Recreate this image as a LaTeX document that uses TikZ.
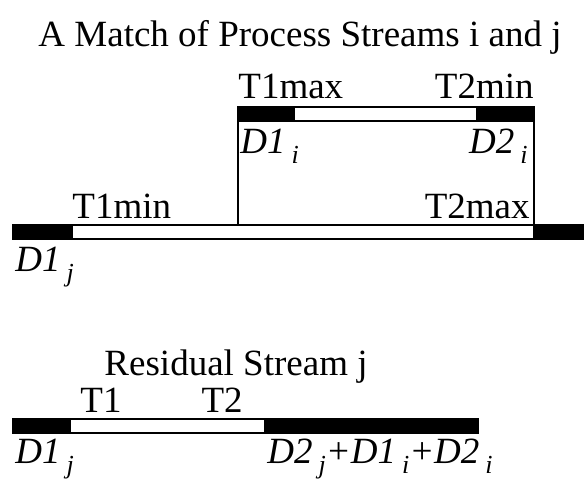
\documentclass[tikz,border=0pt]{standalone}
\usepackage{fontspec}
\setmainfont{Liberation Serif}
\usepackage{tikz}
\usetikzlibrary{positioning, calc}

% subscript set low, as in the scanned figure
\newcommand{\lowsub}[1]{\hspace{3pt}\raisebox{-5pt}{\fontsize{13}{13}\selectfont\itshape #1}}

\begin{document}
\begin{tikzpicture}[x=0.5pt, y=-0.5pt]

        % Estilos dos segmentos e rotulos
        \tikzset{
            seg/.style={draw, line width=0.7pt, minimum height=7pt, inner sep=0pt, outer sep=0pt},
            segfull/.style={seg, fill=black},
            segopen/.style={seg, fill=white},
            lbl/.style={inner sep=0pt, font=\fontsize{18.5}{21}\selectfont},
            link/.style={line width=0.7pt}
        }
        \useasboundingbox (0,0) rectangle (584,479);

        % Titulo
        \node [lbl, anchor=base] (title) at (300,46) {A Match of Process Streams i and j};

        % Corrente i
        \node [segfull, minimum width=28pt, anchor=west] (d1i) at (238,114) {};
        \node [segopen, minimum width=91.5pt, right=0pt of d1i] (gapi) {};
        \node [segfull, minimum width=28.5pt, right=0pt of gapi] (d2i) {};

        % Corrente j
        \node [segfull, minimum width=29.5pt, anchor=west] (d1j) at (13,232) {};
        \node [segopen, minimum width=231pt, right=0pt of d1j] (gapj) {};
        \node [segfull, minimum width=28pt, right=0pt of gapj] (d2j) {};

        % Ligacoes entre as correntes
        \draw [link] (d1i.south west) -- (d1i.south west |- gapj.north);
        \draw [link] (d2i.south east) -- (d2i.south east |- gapj.north);

        % Rotulos das correntes
        \node [lbl, anchor=base west] (t1max) at ([yshift=4.5pt]d1i.north west) {T1max};
        \node [lbl, anchor=base east] (t2min) at ([yshift=4.5pt]d2i.north east) {T2min};
        \node [lbl, anchor=base west] (labd1i) at ([xshift=1pt, yshift=-16pt]d1i.south west) {\itshape D1\lowsub{i}};
        \node [lbl, anchor=base east] (labd2i) at ([xshift=-3pt, yshift=-16pt]d2i.south east) {\itshape D2\lowsub{i}};
        \node [lbl, anchor=base west] (t1min) at ([yshift=3.5pt]gapj.north west) {T1min};
        \node [lbl, anchor=base east] (t2max) at ([xshift=-2pt, yshift=3.5pt]gapj.north east) {T2max};
        \node [lbl, anchor=base west] (labd1j) at ([xshift=1pt, yshift=-16pt]d1j.south west) {\itshape D1\lowsub{j}};

        % Corrente residual j
        \node [lbl, anchor=base] (restitle) at (236,375) {Residual Stream j};
        \node [segfull, minimum width=28.5pt, anchor=west] (r1) at (13,426) {};
        \node [segopen, minimum width=97.5pt, right=0pt of r1] (rgap) {};
        \node [segfull, minimum width=106.5pt, right=0pt of rgap] (r2) {};

        \node [lbl, anchor=base west] (t1) at ([xshift=5pt, yshift=3.5pt]rgap.north west) {T1};
        \node [lbl, anchor=base east] (t2) at ([xshift=-11pt, yshift=3.5pt]rgap.north east) {T2};
        \node [lbl, anchor=base west] (labr1) at ([xshift=1pt, yshift=-15pt]r1.south west) {\itshape D1\lowsub{j}};
        \node [lbl, anchor=base west] (labr2) at ([xshift=1pt, yshift=-15pt]r2.south west)
            {\itshape D2\lowsub{j}+D1\lowsub{i}+D2\lowsub{i}};

\end{tikzpicture}
\end{document}
